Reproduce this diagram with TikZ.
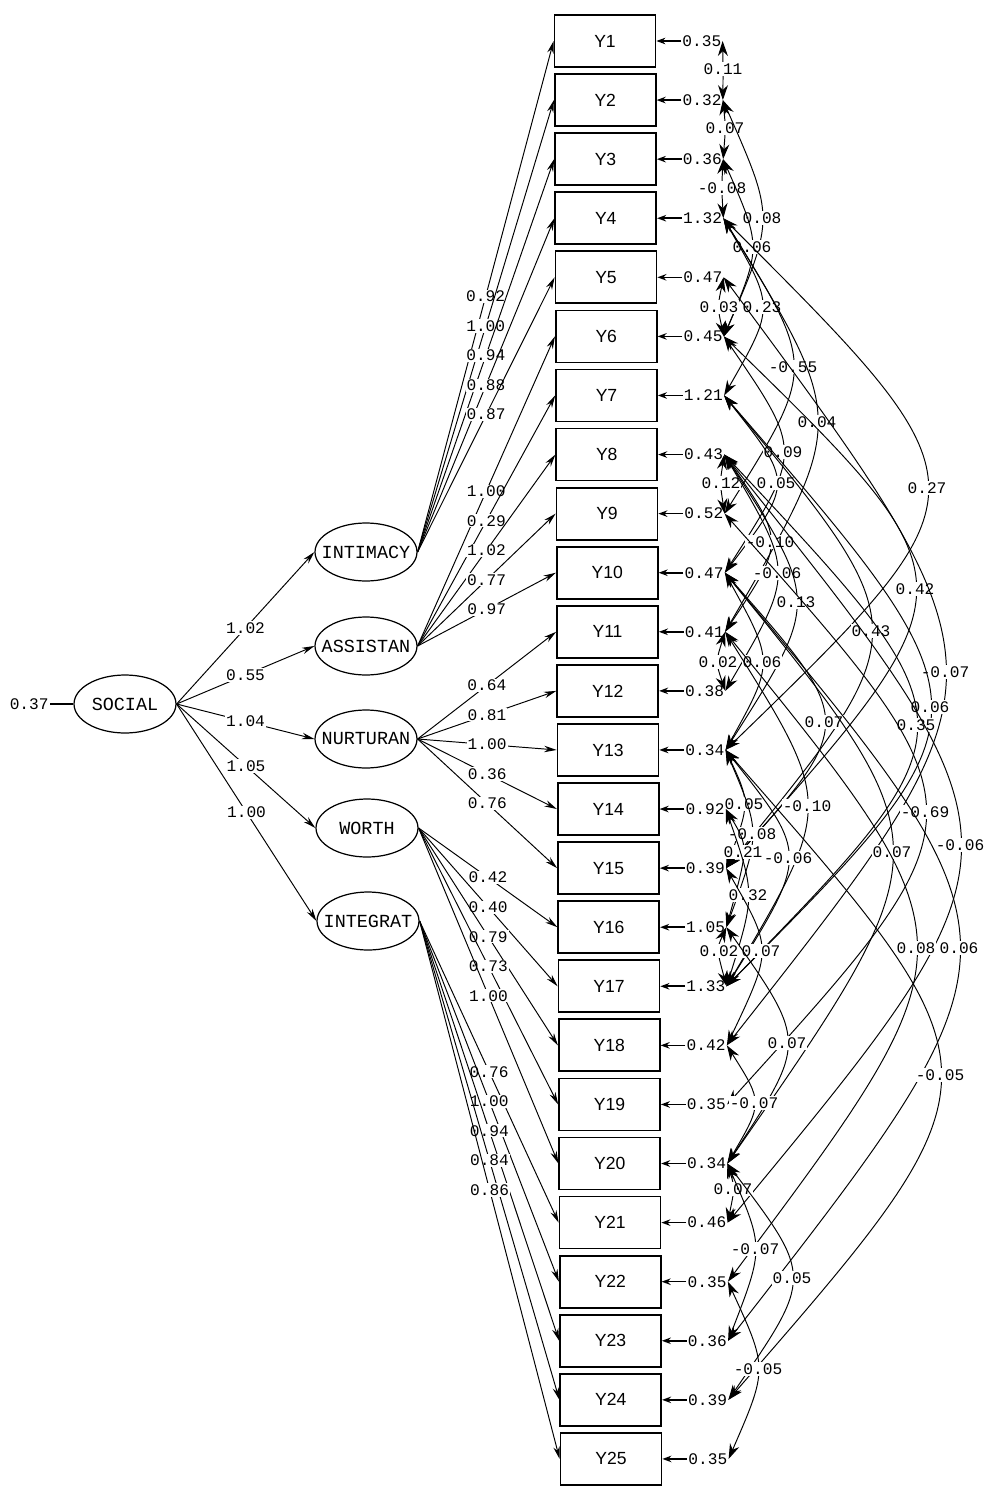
\documentclass[tikz,border=0pt]{standalone}
\usepackage{fontspec}
\setmainfont{Liberation Sans}
\setmonofont{Liberation Mono}
\usetikzlibrary{shapes.geometric, arrows.meta, calc}
\tikzset{
	obs/.style = {rectangle, minimum width = 2.02cm, minimum height = 1.04cm, draw = black, line width = 1pt, font = \fontsize{10}{12}\selectfont},
	fac/.style = {ellipse, minimum width = 2.04cm, minimum height = 1.16cm, inner sep = 0pt, draw = black, line width = 0.7pt, font = \ttfamily\fontsize{10.5}{12}\selectfont},
	num/.style = {inner sep = 0.6pt, fill = white, font = \ttfamily\fontsize{9.2}{10}\selectfont},
	errval/.style = {inner sep = 0.6pt, anchor = west, font = \ttfamily\fontsize{9.2}{10}\selectfont},
	load/.style = {-{Stealth[length = 2.5mm, width = 1.3mm]}, draw = black, line width = 0.55pt},
	errarrow/.style = {-{Stealth[length = 1.8mm, width = 1.3mm]}, draw = black, line width = 0.9pt},
	cov/.style = {{Stealth[length = 3mm, width = 2mm]}-{Stealth[length = 3mm, width = 2mm]}, draw = black, line width = 0.55pt}
}

\begin{document}
\begin{tikzpicture}[x = 0.02cm, y = -0.02cm]
	\useasboundingbox (0,0) rectangle (986,1486);
	
	%% latent variables
	\node (social) [fac] at (125,704) {\makebox[0pt]{SOCIAL}};
	\node (intimacy) [fac] at (366,552) {\makebox[0pt]{INTIMACY}};
	\node (assistan) [fac] at (366,646) {\makebox[0pt]{ASSISTAN}};
	\node (nurturan) [fac] at (366,739) {\makebox[0pt]{NURTURAN}};
	\node (worth) [fac] at (367,828) {\makebox[0pt]{WORTH}};
	\node (integrat) [fac] at (368,921) {\makebox[0pt]{INTEGRAT}};
	\node (psi) [num, anchor = east] at (50,704) {0.37};
	\draw [line width = 0.8pt] (psi) -- (social);
	
	%% indicators and error variances
	\foreach \k/\e in {1/0.35, 2/0.32, 3/0.36, 4/1.32, 5/0.47, 6/0.45, 7/1.21, 8/0.43, 9/0.52, 10/0.47, 11/0.41, 12/0.38, 13/0.34, 14/0.92, 15/0.39, 16/1.05, 17/1.33, 18/0.42, 19/0.35, 20/0.34, 21/0.46, 22/0.35, 23/0.36, 24/0.39, 25/0.35}{
		\node (y\k) [obs] at ({605 + 0.25*(\k-1)}, {41 + 59.08*(\k-1)}) {Y\k};
		\node (err\k) [errval] at ({681 + 0.25*(\k-1)}, {41 + 59.08*(\k-1)}) {\e};
		\coordinate (e\k) at (err\k.east);
		\draw [errarrow] (err\k) -- (y\k);
	}
	
	%% second order paths
	\draw [load] (social.east) -- node [num] {1.02} (intimacy.west);
	\draw [load] (social.east) -- node [num] {0.55} (assistan.west);
	\draw [load] (social.east) -- node [num] {1.04} (nurturan.west);
	\draw [load] (social.east) -- node [num] {1.05} (worth.west);
	\draw [load] (social.east) -- node [num] {1.00} (integrat.west);
	
	%% loadings
	\foreach \f/\k/\v in {intimacy/1/0.92, intimacy/2/1.00, intimacy/3/0.94, intimacy/4/0.88, intimacy/5/0.87,
		assistan/6/1.00, assistan/7/0.29, assistan/8/1.02, assistan/9/0.77, assistan/10/0.97,
		nurturan/11/0.64, nurturan/12/0.81, nurturan/13/1.00, nurturan/14/0.36, nurturan/15/0.76,
		worth/16/0.42, worth/17/0.40, worth/18/0.79, worth/19/0.73, worth/20/1.00,
		integrat/21/0.76, integrat/22/1.00, integrat/23/0.94, integrat/24/0.84, integrat/25/0.86}
		\draw [load] (\f.east) -- node [num] {\v} (y\k.west);
	
	%% error covariances
	\foreach \i/\j/\v/\lx/\ly in {1/2/0.11/723/69, 2/3/0.07/725/128, 3/4/-0.08/722/188, 2/6/0.08/762/218,
		3/6/0.06/752/247, 5/6/0.03/719/307, 4/7/0.23/762/307, 4/9/-0.55/793/367, 4/11/0.04/817/422,
		6/10/0.09/783/452, 8/9/0.12/721/483, 7/10/0.05/776/483, 8/11/-0.10/770/542, 8/12/-0.06/777/573,
		8/13/0.13/796/602, 4/13/0.27/927/488, 6/15/0.42/915/589, 7/15/0.43/871/631, 5/18/-0.07/945/672,
		7/17/0.06/930/707, 8/17/0.35/916/725, 11/12/0.02/718/662, 10/13/0.06/762/662, 10/15/0.07/824/722,
		13/15/0.05/744/804, 11/17/-0.10/807/806, 13/16/-0.08/752/834, 14/16/0.21/743/852, 13/17/-0.06/788/858,
		14/17/0.32/748/895, 9/19/-0.69/925/812, 8/21/-0.06/960/845, 10/20/0.07/892/852, 16/17/0.02/719/951,
		15/18/0.07/761/951, 11/22/0.08/916/948, 10/23/0.06/959/948, 16/20/0.07/787/1043, 13/24/-0.05/940/1075,
		18/20/-0.07/754/1103, 20/21/0.07/733/1189, 20/23/-0.07/755/1249, 20/24/0.05/792/1278, 22/25/-0.05/758/1369}{
		\coordinate (c) at (\lx,\ly);
		\draw [cov] let \p1 = (e\i), \p2 = (e\j), \p3 = (c) in
			(\p1) .. controls ({(8*\x3-\x1-\x2)/6}, {(8*\y3-\y1-\y2)/6}) .. (\p2);
		\node [num] at (c) {\v};
	}
\end{tikzpicture}
\end{document}
